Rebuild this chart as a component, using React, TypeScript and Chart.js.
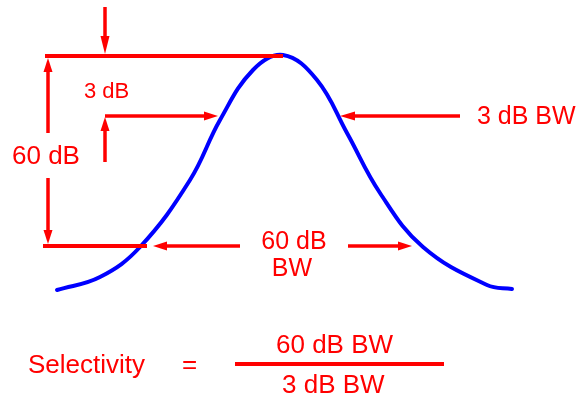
import React, { useEffect, useRef } from "react";
import { Chart, registerables } from "chart.js";

Chart.register(...registerables);

// Response curve (diagram units: x across, y down)
const curveX = [57, 100, 140, 190, 220, 253, 283, 317, 347, 380, 423, 487, 512];
const curveY = [290, 277, 247, 180, 120, 70, 55, 80, 133, 193, 247, 285, 289];

// Reference lines [x1, y1, x2, y2]
const refLineX1 = [45, 43, 235];
const refLineY1 = [56, 246, 364];
const refLineX2 = [283, 147, 444];
const refLineY2 = [56, 246, 364];

// Arrows: tail -> tip
const arrowX1 = [105, 48, 48, 105, 105, 460, 240, 348];
const arrowY1 = [7, 133, 178, 162, 116, 116, 246, 246];
const arrowX2 = [105, 48, 48, 105, 218, 340, 153, 412];
const arrowY2 = [54, 58, 244, 117, 116, 116, 246, 246];
const arrowHead = [18, 14, 14, 14, 14, 15, 14, 14];

// Labels
const labelText = ["60 dB", "3 dB", "3 dB BW", "60 dB", "BW", "Selectivity", "=", "60 dB BW", "3 dB BW"];
const labelX = [12, 84, 477, 294, 292, 28, 182, 276, 282];
const labelY = [164, 98, 124, 249, 276, 373, 373, 353, 393];
const labelSize = [26, 22, 25, 25, 25, 26, 26, 26, 26];
const labelAlign = ["left", "left", "left", "center", "center", "left", "left", "left", "left"];

const RED = "#ff0000";
const BLUE = "#0000ff";
const FONT = "'Liberation Sans', Arial, sans-serif";

const annotationPlugin = {
  id: "diagramAnnotations",
  afterDatasetsDraw(chart: any) {
    const { ctx, scales } = chart;
    const sx = (v: number) => scales.x.getPixelForValue(v);
    const sy = (v: number) => scales.y.getPixelForValue(v);
    ctx.save();
    ctx.strokeStyle = RED;
    ctx.fillStyle = RED;
    ctx.lineCap = "butt";
    ctx.lineWidth = 4;
    for (let i = 0; i < refLineX1.length; i++) {
      ctx.beginPath();
      ctx.moveTo(sx(refLineX1[i]), sy(refLineY1[i]));
      ctx.lineTo(sx(refLineX2[i]), sy(refLineY2[i]));
      ctx.stroke();
    }
    ctx.lineWidth = 3.5;
    for (let i = 0; i < arrowX1.length; i++) {
      const x1 = sx(arrowX1[i]);
      const y1 = sy(arrowY1[i]);
      const x2 = sx(arrowX2[i]);
      const y2 = sy(arrowY2[i]);
      const ang = Math.atan2(y2 - y1, x2 - x1);
      const hl = arrowHead[i];
      const hw = 4.5;
      const bx = x2 - Math.cos(ang) * (hl - 2);
      const by = y2 - Math.sin(ang) * (hl - 2);
      ctx.beginPath();
      ctx.moveTo(x1, y1);
      ctx.lineTo(bx, by);
      ctx.stroke();
      const baseX = x2 - Math.cos(ang) * hl;
      const baseY = y2 - Math.sin(ang) * hl;
      ctx.beginPath();
      ctx.moveTo(x2, y2);
      ctx.lineTo(baseX + Math.sin(ang) * hw, baseY - Math.cos(ang) * hw);
      ctx.lineTo(baseX - Math.sin(ang) * hw, baseY + Math.cos(ang) * hw);
      ctx.closePath();
      ctx.fill();
    }
    ctx.textBaseline = "alphabetic";
    for (let i = 0; i < labelText.length; i++) {
      ctx.font = `${labelSize[i]}px ${FONT}`;
      ctx.textAlign = labelAlign[i] as CanvasTextAlign;
      ctx.fillText(labelText[i], sx(labelX[i]), sy(labelY[i]));
    }
    ctx.restore();
  },
};

export default function App() {
  const ref = useRef<HTMLCanvasElement | null>(null);
  useEffect(() => {
    document.body.style.margin = "0";
    const canvas = ref.current;
    if (!canvas) return;
    const chart = new Chart(canvas, {
      type: "scatter",
      data: {
        datasets: [
          {
            data: curveX.map((x, i) => ({ x, y: curveY[i] })),
            showLine: true,
            borderColor: BLUE,
            borderWidth: 4,
            pointRadius: 0,
            tension: 0.4,
            borderCapStyle: "round",
            borderJoinStyle: "round",
          } as any,
        ],
      },
      options: {
        animation: false,
        responsive: false,
        maintainAspectRatio: false,
        layout: { padding: 0 },
        plugins: { legend: { display: false }, tooltip: { enabled: false } },
        scales: {
          x: { type: "linear", min: 0, max: 579, display: false },
          y: { type: "linear", min: 0, max: 398, reverse: true, display: false },
        },
      },
      plugins: [annotationPlugin],
    });
    return () => chart.destroy();
  }, []);
  return (
    <div style={{ width: 579, height: 398, background: "#fff" }}>
      <canvas ref={ref} width={579} height={398} style={{ display: "block" }} />
    </div>
  );
}
